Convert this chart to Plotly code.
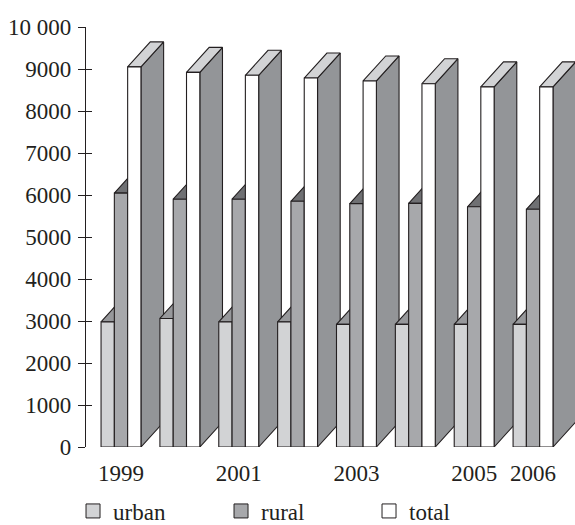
import plotly.graph_objects as go

# Population by year (thousands), read per settlement type
years = [1999, 2000, 2001, 2002, 2003, 2004, 2005, 2006]
labelled_years = [1999, 2001, 2003, 2005, 2006]
urban = [2980, 3060, 2980, 2980, 2920, 2920, 2920, 2920]
rural = [6045, 5900, 5900, 5850, 5795, 5800, 5720, 5660]
total = [9050, 8920, 8850, 8785, 8715, 8650, 8575, 8575]

y_ticks = [0, 1000, 2000, 3000, 4000, 5000, 6000, 7000, 8000, 9000, 10000]
y_tick_text = ["0", "1000", "2000", "3000", "4000", "5000", "6000",
               "7000", "8000", "9000", "10 000"]

series = [
    ("urban", urban, "#d2d3d5", "#97989b", "#8e8f92"),
    ("rural", rural, "#a7a8ab", "#6f7073", "#6f7073"),
    ("total", total, "#ffffff", "#d2d3d5", "#939598"),
]

# pseudo-3D geometry, in axis units
BAR_W = 0.226      # front face width (category units)
DEPTH_X = 0.385    # receding offset along x
DEPTH_Y = 595      # receding offset along y (value units)
EDGE = "#231f20"
FONT = "Liberation Serif"
FONT_SIZE = 23

fig = go.Figure()


def face(xs, ys, color):
    fig.add_trace(go.Scatter(
        x=xs + [xs[0]], y=ys + [ys[0]], mode="lines", fill="toself",
        fillcolor=color, line=dict(color=EDGE, width=1.1),
        hoverinfo="skip", showlegend=False))


# draw left to right so nearer faces cover the hidden ones
for k in range(len(years)):
    for j, (name, vals, front, top, side) in enumerate(series):
        x0 = k - 1.5 * BAR_W + j * BAR_W
        x1 = x0 + BAR_W
        v = vals[k]
        face([x1, x1 + DEPTH_X, x1 + DEPTH_X, x1],
             [0, DEPTH_Y, v + DEPTH_Y, v], side)
        face([x0, x1, x1 + DEPTH_X, x0 + DEPTH_X],
             [v, v, v + DEPTH_Y, v + DEPTH_Y], top)
        face([x0, x1, x1, x0], [0, 0, v, v], front)

# legend entries
for name, vals, front, top, side in series:
    fig.add_trace(go.Scatter(
        x=[None], y=[None], mode="markers", name=name,
        marker=dict(symbol="square", size=14, color=front,
                    line=dict(color=EDGE, width=1))))

# inner half of the crossing y ticks
fig.add_trace(go.Scatter(x=[None], y=[None], yaxis="y2", showlegend=False,
                         hoverinfo="skip"))

fig.update_layout(
    width=575, height=525,
    margin=dict(l=86, r=0, t=27, b=78),
    paper_bgcolor="white", plot_bgcolor="white",
    font=dict(family=FONT, size=FONT_SIZE, color=EDGE),
    xaxis=dict(
        range=[-0.5946, 7.713], showgrid=False, zeroline=False,
        showline=False, ticks="",
        tickvals=[years.index(y) for y in labelled_years],
        ticktext=[str(y) for y in labelled_years],
        ticklabelstandoff=10,
        tickfont=dict(family=FONT, size=FONT_SIZE, color=EDGE),
    ),
    yaxis=dict(
        range=[0, 10000], showgrid=False, zeroline=False,
        showline=True, linecolor=EDGE, linewidth=1.2,
        ticks="outside", ticklen=7, tickwidth=1.2, tickcolor=EDGE,
        tickvals=y_ticks, ticktext=y_tick_text,
        ticklabelstandoff=2,
        tickfont=dict(family=FONT, size=FONT_SIZE, color=EDGE),
    ),
    yaxis2=dict(
        range=[0, 10000], overlaying="y", side="left", showgrid=False,
        zeroline=False, showline=False, showticklabels=False,
        ticks="inside", ticklen=6, tickwidth=1.2, tickcolor=EDGE,
        tickvals=y_ticks,
    ),
    legend=dict(
        orientation="h", xref="container", yref="container",
        x=0.127, y=1 - 511 / 525, xanchor="left", yanchor="middle",
        entrywidth=103, entrywidthmode="pixels",
        font=dict(family=FONT, size=FONT_SIZE, color=EDGE),
        bgcolor="rgba(0,0,0,0)",
    ),
    showlegend=True,
)

fig.write_html("out.html")
